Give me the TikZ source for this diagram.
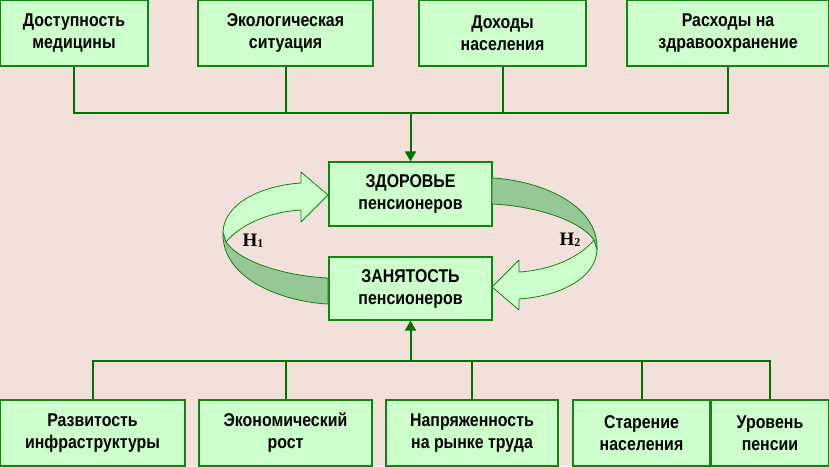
\documentclass[tikz,border=0pt]{standalone}
\usepackage{fontspec}
\setmainfont{Liberation Sans}[FakeStretch=0.86]
\newfontfamily\hfont{Liberation Serif}
\usetikzlibrary{positioning,arrows.meta}
\definecolor{bgpink}{RGB}{242,225,218}
\definecolor{boxgreen}{RGB}{204,255,204}
\definecolor{edgegreen}{RGB}{20,130,20}
\definecolor{linegreen}{RGB}{0,115,0}
\definecolor{ribbondark}{RGB}{150,200,150}

\begin{document}
\begin{tikzpicture}[
  x=1pt, y=-1pt,
  box/.style={draw=edgegreen, line width=1.2pt, fill=boxgreen, inner sep=0pt, minimum height=66pt, align=center, font=\fontsize{18.5}{22}\selectfont\bfseries},
  link/.style={draw=linegreen, line width=2pt},
  arr/.style={link, -{Triangle[length=10pt,width=11pt]}},
  ribbon/.style={draw=edgegreen, line width=0.8pt, line join=round},
  hyp/.style={font=\hfont\fontsize{19}{19}\selectfont\bfseries}
]
\fill[bgpink] (0,0) rectangle (829,466);
\useasboundingbox (0,0) rectangle (829,466);

% factors of health
\node[box, minimum width=148pt] (access) at (74,33) {Доступность\\медицины};
\node[box, minimum width=175pt] (ecology) at (285.5,33) {Экологическая\\ситуация};
\node[box, minimum width=167pt] (income) at (502.5,33) {Доходы\\населения};
\node[box, minimum width=202pt] (spending) at (728,33) {Расходы на\\здравоохранение};

% core
\node[box, minimum width=163pt, minimum height=64pt] (health) at (410.5,194) {ЗДОРОВЬЕ\\пенсионеров};
\node[box, minimum width=163pt, minimum height=63pt] (employ) at (410.5,288.5) {ЗАНЯТОСТЬ\\пенсионеров};

% factors of employment
\node[box, minimum width=185pt] (infra) at (92.5,433) {Развитость\\инфраструктуры};
\node[box, minimum width=173pt] (growth) at (285.5,433) {Экономический\\рост};
\node[box, minimum width=172pt] (labour) at (472,433) {Напряженность\\на рынке труда};
\node[box, minimum width=137pt] (ageing) at (641.5,433) {Старение\\населения};
\node[box, minimum width=118pt] (pension) at (770,433) {Уровень\\пенсии};

\coordinate (top) at (410.5,113);
\coordinate (bot) at (410.5,361);

\draw[link] (access.south) |- (top) -| (spending.south);
\draw[link] (ecology.south) -- (ecology.south |- top);
\draw[link] (income.south) -- (income.south |- top);
\draw[arr] (top) -- (health.north);

\draw[link] (infra.north) |- (bot) -| (pension.north);
\draw[link] (growth.north) -- (growth.north |- bot);
\draw[link] (labour.north) -- (labour.north |- bot);
\draw[link] (ageing.north) -- (ageing.north |- bot);
\draw[arr] (bot) -- (employ.south);

% ribbon arrows H1 / H2
\foreach \ang in {0,180} {
  \begin{scope}[rotate around={\ang:(410,241)}]
    \filldraw[ribbon, fill=ribbondark] (223,232) .. controls (221,280) and (285,302) .. (328,304)
      -- (328,278) .. controls (285,276) and (240,262) .. (226,242) -- cycle;
    \filldraw[ribbon, fill=boxgreen] (301,183) .. controls (258,186) and (224,205) .. (223,232)
      -- (226,242) .. controls (240,225) and (268,212) .. (301,210)
      -- (301,222) -- (328,195) -- (301,172) -- cycle;
  \end{scope}
}
\node[hyp] (h1) at (253,241) {H\raisebox{-1pt}{\fontsize{12}{12}\selectfont 1}};
\node[hyp] (h2) at (570,240) {H\raisebox{-1pt}{\fontsize{12}{12}\selectfont 2}};
\end{tikzpicture}
\end{document}
